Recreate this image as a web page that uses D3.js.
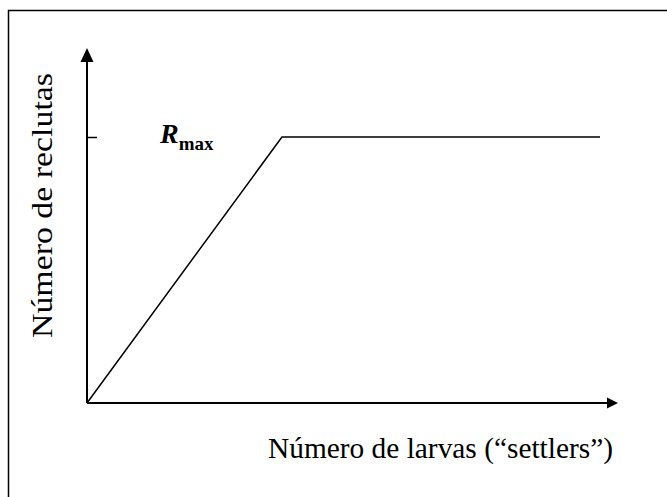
<!DOCTYPE html>
<html>
<head>
<meta charset="utf-8">
<script src="https://cdn.jsdelivr.net/npm/d3@7"></script>
<style>
  body { margin: 0; background: #fff; }
  svg { display: block; }
  text { font-family: "Liberation Serif", "Times New Roman", serif; fill: #000; }
</style>
</head>
<body>
<div id="chart"></div>
<script>
// saturating recruitment curve: recruits rise linearly then level at Rmax
var settlers = [0, 38, 100];
var recruits = [0, 100, 100];
var rmaxTick = [100];
var xLabel = "Número de larvas (“settlers”)";
var yLabel = "Número de reclutas";

(function() {
  var W = 667, H = 497;
  var svg = d3.select("#chart").append("svg")
    .attr("width", W)
    .attr("height", H);

  // frame around the figure (open to the right and bottom, cropped)
  svg.append("rect")
    .attr("x", 8.5).attr("y", 10.5)
    .attr("width", W + 20).attr("height", H + 20)
    .attr("fill", "none")
    .attr("stroke", "#000")
    .attr("stroke-width", 1.5);

  var x = d3.scaleLinear().domain([0, 100]).range([87, 600]);
  var y = d3.scaleLinear().domain([0, 100]).range([403, 137]);

  var xEnd = x.invert(618), yEnd = y.invert(48);

  // axes
  svg.append("line")
    .attr("x1", x(0)).attr("y1", y(0))
    .attr("x2", x(xEnd) - 8).attr("y2", y(0))
    .attr("stroke", "#000").attr("stroke-width", 2);
  svg.append("line")
    .attr("x1", x(0)).attr("y1", y(0))
    .attr("x2", x(0)).attr("y2", y(yEnd) + 10)
    .attr("stroke", "#000").attr("stroke-width", 2);

  // arrow heads
  var tx = x(xEnd), ty = y(yEnd);
  svg.append("path")
    .attr("d", `M${tx},${y(0)} L${tx - 11},${y(0) - 5.5} L${tx - 11},${y(0) + 5.5} Z`)
    .attr("fill", "#000");
  svg.append("path")
    .attr("d", `M${x(0)},${ty} L${x(0) - 6.5},${ty + 14} L${x(0) + 6.5},${ty + 14} Z`)
    .attr("fill", "#000");

  // Rmax tick on the y axis
  var yAxis = d3.axisLeft(y)
    .tickValues(rmaxTick)
    .tickSizeInner(-10)
    .tickSizeOuter(0)
    .tickFormat("");
  var ga = svg.append("g")
    .attr("transform", `translate(${x(0)},0)`)
    .call(yAxis);
  ga.select(".domain").remove();
  ga.selectAll(".tick line").attr("stroke", "#000").attr("stroke-width", 1.5);

  // the curve
  var pts = settlers.map(function(s, i) { return [s, recruits[i]]; });
  svg.append("path")
    .datum(pts)
    .attr("d", d3.line().x(function(d) { return x(d[0]); }).y(function(d) { return y(d[1]); }))
    .attr("fill", "none")
    .attr("stroke", "#000")
    .attr("stroke-width", 1.5);

  // Rmax label
  var rl = svg.append("text")
    .attr("x", 160).attr("y", y(rmaxTick[0]) + 6);
  rl.append("tspan")
    .attr("font-style", "italic").attr("font-weight", "bold")
    .attr("font-size", 28)
    .text("R");
  rl.append("tspan")
    .attr("font-weight", "bold")
    .attr("font-size", 19)
    .attr("dy", 7)
    .text("max");

  // axis titles
  svg.append("text")
    .attr("x", 268).attr("y", 458)
    .attr("font-size", 29)
    .attr("textLength", 345)
    .attr("lengthAdjust", "spacingAndGlyphs")
    .text(xLabel);

  svg.append("text")
    .attr("transform", "translate(52,338) rotate(-90)")
    .attr("font-size", 29)
    .attr("textLength", 265)
    .attr("lengthAdjust", "spacingAndGlyphs")
    .text(yLabel);
})();
</script>
</body>
</html>
